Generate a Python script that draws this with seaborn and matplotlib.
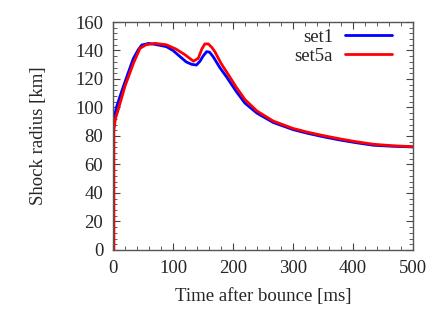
import matplotlib
matplotlib.use("Agg")
import matplotlib.pyplot as plt
from matplotlib.ticker import MultipleLocator
import pandas as pd
import seaborn as sns

# ── Data ──────────────────────────────────────────────────────────────────────
t_set1 = [0, 3, 6, 15, 25, 34, 42, 48, 55, 59, 70, 89, 100, 112, 122, 131, 139,
          145, 150, 156, 161, 167, 178, 189, 205, 220, 240, 267, 300, 323, 350,
          378, 405, 434, 465, 500]
r_set1 = [85.6, 95, 100.6, 112, 124, 134.5, 140.5, 143.9, 144.5, 145, 144.3,
          142.7, 140, 135.6, 132, 130.3, 129.8, 132.5, 136, 139.2, 138.8, 135.6,
          128, 121.6, 111.5, 103, 96, 89.5, 84.5, 82, 79.5, 77.2, 75.3, 73.5, 72.8,
          72.3]

t_set5a = [1.5, 1.5, 4, 9, 20, 34, 45, 55, 70, 89, 105, 120, 134, 142, 148, 153,
           159, 165, 170, 180, 190, 205, 220, 240, 267, 300, 323, 350, 378, 405,
           434, 465, 500]
r_set5a = [0, 84, 92, 99, 115, 131, 141.5, 144, 145, 144, 141, 137, 132.5, 134.5,
           141, 144.6, 144.6, 142, 139, 131, 124.5, 114.5, 105.5, 97.5, 90.5, 85.3,
           82.8, 80.3, 78, 76, 74.2, 73.2, 72.5]

series_names  = ["set1", "set5a"]
series_colors = ["#0000ff", "#ff0000"]

df = pd.concat([
    pd.DataFrame({"t": t_set1, "r": r_set1, "run": "set1"}),
    pd.DataFrame({"t": t_set5a, "r": r_set5a, "run": "set5a"}),
], ignore_index=True)

# ── Plot ──────────────────────────────────────────────────────────────────────
sns.set_style("ticks")
plt.rcParams["font.family"] = ["Liberation Serif", "DejaVu Serif"]

fig = plt.figure(figsize=(4.42, 3.09), dpi=100)
ax = fig.add_axes([0.2557, 0.191, 0.6787, 0.7378])

sns.lineplot(
    data=df, x="t", y="r", hue="run", hue_order=series_names,
    palette=series_colors, sort=False, estimator=None, linewidth=2.0, ax=ax,
)

ax.set_xlim(0, 500)
ax.set_ylim(0, 160)
ax.xaxis.set_major_locator(MultipleLocator(100))
ax.xaxis.set_minor_locator(MultipleLocator(20))
ax.yaxis.set_major_locator(MultipleLocator(20))
ax.yaxis.set_minor_locator(MultipleLocator(4))
ax.tick_params(which="both", direction="in", top=True, right=True,
               labelsize=13.5, color="#444444", pad=7)
ax.tick_params(which="major", length=5)
ax.tick_params(which="minor", length=3)
for s in ax.spines.values():
    s.set_color("#555555")
    s.set_linewidth(1.0)

ax.set_xlabel("Time after bounce [ms]", fontsize=13.5, labelpad=8)
ax.set_ylabel("Shock radius [km]", fontsize=13.5, labelpad=20)

leg = ax.legend(loc="upper right", bbox_to_anchor=(0.93, 0.972),
                frameon=False, markerfirst=False, fontsize=13.5,
                handlelength=2.5, handletextpad=0.65, borderaxespad=0,
                borderpad=0, labelspacing=0.1)
for txt in leg.get_texts():
    txt.set_ha("right")

fig.savefig("out.png", dpi=100)
